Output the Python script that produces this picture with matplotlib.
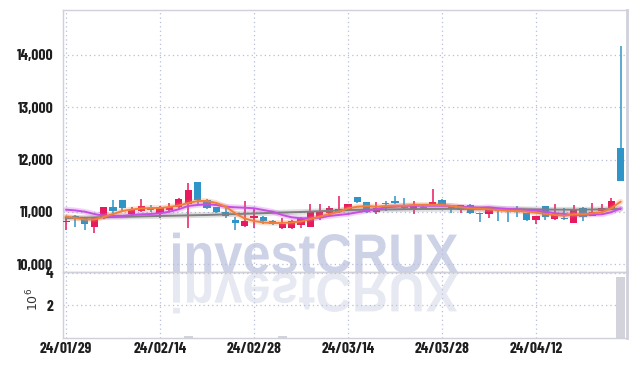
import numpy as np
import matplotlib
matplotlib.use("Agg")
import matplotlib.pyplot as plt
from matplotlib.textpath import TextPath
from matplotlib.patches import PathPatch
from matplotlib.font_manager import FontProperties
from matplotlib.transforms import Affine2D
import matplotlib.ticker as mticker

# trading days (KRX), 2024-01-29 .. 2024-04-25
dates = [
    "24/01/29", "24/01/30", "24/01/31", "24/02/01", "24/02/02", "24/02/05", "24/02/06", "24/02/07",
    "24/02/08", "24/02/13", "24/02/14", "24/02/15", "24/02/16", "24/02/19", "24/02/20", "24/02/21",
    "24/02/22", "24/02/23", "24/02/26", "24/02/27", "24/02/28", "24/02/29", "24/03/04", "24/03/05",
    "24/03/06", "24/03/07", "24/03/08", "24/03/11", "24/03/12", "24/03/13", "24/03/14", "24/03/15",
    "24/03/18", "24/03/19", "24/03/20", "24/03/21", "24/03/22", "24/03/25", "24/03/26", "24/03/27",
    "24/03/28", "24/03/29", "24/04/01", "24/04/02", "24/04/03", "24/04/04", "24/04/05", "24/04/08",
    "24/04/09", "24/04/11", "24/04/12", "24/04/15", "24/04/16", "24/04/17", "24/04/18", "24/04/19",
    "24/04/22", "24/04/23", "24/04/24", "24/04/25",
]

opens = [10810, 10920, 10890, 10720, 10880, 11090, 11230, 10960, 11025, 11070,
         10975, 11040, 11090, 11150, 11580, 11230, 11090, 10995, 10850, 10740,
         10880, 10910, 10830, 10690, 10690, 10750, 10720, 10890, 10975, 11005,
         11040, 11280, 11185, 11005, 11165, 11210, 11100, 11040, 11100, 11120,
         11230, 11120, 11040, 11135, 10985, 10955, 11030, 11070, 11060, 10975,
         10845, 11115, 10860, 10890, 10795, 11070, 10930, 11020, 11080, 12215]
highs = [10910, 10940, 10910, 10910, 11100, 11230, 11230, 11090, 11250, 11135,
         11110, 11165, 11275, 11550, 11580, 11240, 11100, 11070, 10910, 11210,
         11070, 10920, 10840, 10890, 10840, 10900, 11150, 11150, 11120, 11310,
         11160, 11285, 11200, 11185, 11210, 11310, 11260, 11210, 11150, 11440,
         11240, 11130, 11140, 11150, 10990, 11050, 11040, 11080, 11115, 10990,
         10930, 11120, 11145, 11070, 11135, 11090, 11165, 11145, 11275, 14170]
lows = [10650, 10720, 10660, 10590, 10870, 10890, 10995, 10910, 10995, 10995,
        10890, 10995, 11060, 10690, 11135, 11060, 10990, 10890, 10660, 10720,
        10700, 10765, 10760, 10680, 10680, 10700, 10710, 10850, 10960, 10990,
        11020, 11180, 10990, 10955, 11020, 11145, 11060, 10955, 11060, 11110,
        11110, 10975, 10975, 10970, 10815, 10890, 10830, 10815, 10910, 10820,
        10765, 10845, 10850, 10850, 10790, 10830, 10920, 11000, 11070, 11600]
closes = [10830, 10860, 10765, 10890, 11090, 11025, 11070, 11040, 11115, 11040,
          11090, 11090, 11250, 11420, 11230, 11070, 11000, 10930, 10795, 10830,
          10925, 10830, 10765, 10770, 10830, 10890, 10995, 10995, 11070, 11055,
          11150, 11185, 10995, 11070, 11145, 11180, 11070, 11115, 11070, 11185,
          11120, 11070, 11135, 10975, 10955, 11040, 11020, 11020, 11040, 10845,
          10925, 10910, 10955, 10860, 11050, 10910, 11005, 11080, 11210, 11600]
volumes = [15000, 12000, 14000, 18000, 20000, 10000, 14000, 9000, 16000, 8000,
           11000, 9000, 25000, 150000, 30000, 12000, 9000, 8000, 10000, 16000,
           9000, 8000, 7000, 100000, 15000, 11000, 20000, 14000, 10000, 18000,
           12000, 13000, 15000, 9000, 6000, 10000, 8000, 11000, 6000, 19000,
           12000, 8000, 10000, 11000, 7000, 9000, 7000, 8000, 6000, 10000,
           8000, 14000, 11000, 8000, 18000, 12000, 10000, 9000, 15000, 3750000]

ma_orange = [10914, 10885, 10857, 10857, 10904, 10962, 11019, 11048, 11067, 11076,
             11076, 11096, 11124, 11172, 11210, 11210, 11172, 11101, 10975, 10876,
             10828, 10800, 10790, 10790, 10800, 10819, 10866, 10914, 10956, 11006,
             11071, 11101, 11115, 11101, 11115, 11120, 11120, 11134, 11134, 11134,
             11134, 11115, 11090, 11071, 11061, 11052, 11038, 11025, 11019, 11006,
             10987, 10962, 10943, 10929, 10956, 10956, 10975, 10994, 11071, 11197]
ma_purple = [11045, 11030, 11006, 10962, 10929, 10924, 10924, 10943, 10956, 10962,
             10975, 11006, 11052, 11115, 11134, 11147, 11134, 11101, 11090, 11082,
             11071, 11038, 11006, 10943, 10899, 10880, 10880, 10891, 10924, 10943,
             10962, 10994, 11025, 11052, 11090, 11101, 11115, 11120, 11120, 11120,
             11120, 11115, 11101, 11090, 11082, 11090, 11071, 11057, 11052, 11038,
             11025, 11006, 10975, 10962, 10943, 10943, 10952, 10956, 10994, 11071]
ma_grey = [10885, 10888, 10892, 10896, 10900, 10904, 10908, 10912, 10916, 10920,
           10924, 10928, 10932, 10936, 10940, 10943, 10949, 10955, 10960, 10966,
           10972, 10978, 10984, 10990, 10995, 11000, 11008, 11015, 11023, 11030,
           11038, 11041, 11043, 11046, 11048, 11050, 11053, 11055, 11057, 11058,
           11059, 11060, 11060, 11060, 11060, 11058, 11057, 11055, 11053, 11052,
           11050, 11048, 11046, 11045, 11045, 11046, 11048, 11052, 11055, 11057]

price_ticks = [10000, 11000, 12000, 13000, 14000]
vol_ticks = [2, 4]

UP = "#e8195f"
DOWN = "#2f95c8"
GRID = "#b9bedb"
SPINE = "#cfd0da"

lab_font = dict(family=["Barlow Condensed", "DejaVu Sans"], weight="bold", size=11.2)

fig = plt.figure(figsize=(6.35, 3.66), dpi=100)
fig.patch.set_facecolor("white")
W, H = 635, 366
ax = fig.add_axes([63 / W, (H - 272) / H, 564 / W, 262 / H])
axv = fig.add_axes([63 / W, (H - 338) / H, 564 / W, 66 / H], sharex=ax)

x = np.arange(len(dates))
o = np.array(opens)
c = np.array(closes)
up = c >= o
cols = np.where(up, UP, DOWN)

# watermark with reflection, drawn under the axes
fp = FontProperties(family="Liberation Sans", weight="bold")
tp = TextPath((0, 0), "investCRUX", size=1, prop=fp)
ext = tp.get_extents()
cap = TextPath((0, 0), "C", size=1, prop=fp).get_extents().height
sx = 285 / ext.width
sy = 39 / cap
base = Affine2D().translate(-ext.x0, 0)
main_tr = base + Affine2D().scale(sx, sy).translate(173, H - 272.5) + Affine2D().scale(1 / W, 1 / H) + fig.transFigure
refl_tr = base + Affine2D().scale(sx, -sy).translate(173, H - 273.5) + Affine2D().scale(1 / W, 1 / H) + fig.transFigure
fig.add_artist(PathPatch(tp, transform=main_tr, facecolor="#cdd2e7", edgecolor="none", zorder=-2))
fig.add_artist(PathPatch(tp, transform=refl_tr, facecolor="#e7e9f2", edgecolor="none", zorder=-2))

for a in (ax, axv):
    a.set_facecolor("none")
    a.grid(True, color=GRID, linestyle=(0, (1, 2.5)), linewidth=0.9)
    a.set_axisbelow(True)
    a.tick_params(length=0, colors="#1e1e1e")
    for s in a.spines.values():
        s.set_color(SPINE)
        s.set_linewidth(1.0)
    a.spines["right"].set_linewidth(2.0)

# candles
ax.vlines(x, lows, highs, colors=cols, linewidth=1.1, zorder=2)
body = np.abs(c - o)
body = np.where(body < 12, 12, body)
ax.bar(x, body, bottom=np.minimum(o, c), width=0.78, color=cols, zorder=3)

# moving averages with soft halo
for vals, col in [(ma_grey, "#808080"), (ma_purple, "#c64fe2"), (ma_orange, "#f07f3d")]:
    ax.plot(x, vals, color=col, linewidth=4, alpha=0.25, zorder=4, solid_capstyle="round")
    ax.plot(x, vals, color=col, linewidth=1.4, zorder=5, solid_capstyle="round")

ax.set_xlim(-0.32, 59.68)
ax.set_ylim(9854, 14858)
ax.set_yticks(price_ticks)
ax.yaxis.set_major_formatter(mticker.FuncFormatter(lambda v, p: f"{int(v):,}"))
for t in ax.get_yticklabels():
    t.set_fontproperties(FontProperties(**lab_font))
ax.tick_params(axis="y", pad=7)
ax.tick_params(axis="x", labelbottom=False)

# volume panel
axv.bar(x, np.array(volumes) / 1e6, width=0.95, color="#d3d3dc", zorder=2)
axv.set_ylim(0, 4.05)
axv.set_yticks(vol_ticks)
tick_idx = list(range(0, len(dates), 10))
axv.set_xticks(tick_idx)
axv.set_xticklabels([dates[i] for i in tick_idx])
for t in axv.get_yticklabels() + axv.get_xticklabels():
    t.set_fontproperties(FontProperties(**lab_font))
axv.tick_params(axis="y", pad=7)
axv.tick_params(axis="x", pad=3)
axv.text(-0.053, 0.58, r"$10^6$", transform=axv.transAxes, rotation=90,
         ha="center", va="center", fontsize=9, color="#333333")

fig.savefig("out.png", dpi=100, facecolor="white")
